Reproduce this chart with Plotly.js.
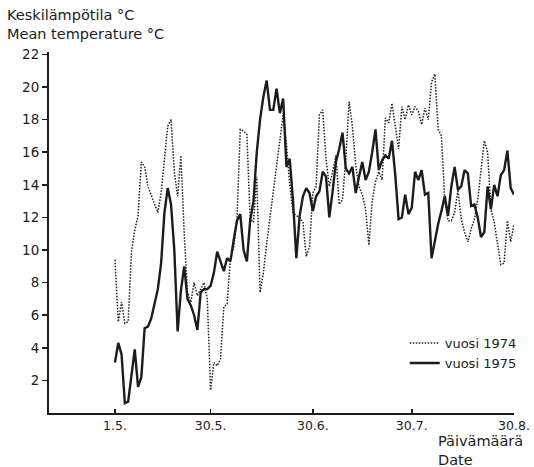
<!DOCTYPE html>
<html>
<head>
<meta charset="utf-8">
<script src="https://cdn.plot.ly/plotly-3.0.1.min.js"></script>
<style>
  html, body { margin: 0; padding: 0; background: #fff; }
  #chart { width: 534px; height: 467px; }
</style>
</head>
<body>
<div id="chart"></div>
<script>
// Daily mean temperature (°C), 1 May – 30 August
const temp1974 = [
  9.4, 5.6, 6.8, 5.5, 5.6, 9.9, 11.2, 12.1, 15.4, 15.1,
  13.9, 13.4, 12.8, 12.3, 13.5, 15.5, 17.6, 18.0, 14.8, 13.3,
  15.8, 11.0, 7.4, 6.8, 8.0, 7.2, 7.6, 8.0, 7.0, 1.4,
  3.1, 2.9, 3.3, 6.5, 6.7, 9.4, 10.2, 11.9, 17.4, 17.3,
  17.1, 11.9, 11.7, 14.5, 7.4, 8.6, 10.4, 12.0, 13.6, 15.4,
  17.0, 18.3, 16.5, 14.0, 12.3, 12.1, 12.0, 11.7, 9.6, 10.2,
  13.5, 13.9, 18.3, 18.6, 15.6, 13.9, 14.8, 15.8, 12.8, 13.1,
  15.6, 19.1, 17.6, 15.2, 13.9, 13.4, 12.5, 10.3, 13.0, 14.2,
  14.8, 14.3, 18.1, 17.8, 19.0, 17.6, 16.2, 18.8, 18.0, 18.9,
  18.3, 18.8, 18.5, 17.7, 18.7, 18.0, 20.3, 20.8, 17.4, 17.0,
  13.1, 11.8, 11.8, 12.3, 13.7, 11.9, 11.1, 10.5, 11.3, 11.9,
  13.1, 14.9, 16.7, 16.0, 12.5, 11.7, 10.4, 9.1, 9.2, 11.8,
  10.5, 11.6
];

const temp1975 = [
  3.1, 4.3, 3.6, 0.6, 0.7, 2.3, 3.9, 1.6, 2.2, 5.2,
  5.3, 5.8, 6.7, 7.6, 9.2, 12.3, 13.8, 12.8, 10.0, 5.0,
  7.5, 9.0, 7.0, 6.6, 6.0, 5.1, 7.4, 7.6, 7.6, 7.8,
  8.6, 9.9, 9.3, 8.7, 9.5, 9.3, 10.6, 11.8, 12.2, 10.0,
  9.3, 11.8, 13.0, 16.0, 18.0, 19.4, 20.4, 18.6, 18.6, 19.9,
  18.4, 19.3, 15.1, 15.6, 13.0, 9.5, 12.1, 13.3, 13.8, 13.5,
  12.4, 13.3, 13.6, 14.8, 14.5, 12.0, 13.6, 15.4, 16.2, 17.2,
  15.0, 14.7, 15.1, 13.5, 14.5, 15.4, 14.3, 14.8, 16.0, 17.4,
  14.9, 15.5, 15.8, 15.6, 16.7, 14.6, 11.9, 12.0, 13.4, 12.2,
  12.6, 14.8, 14.3, 14.9, 13.4, 13.5, 9.5, 10.6, 11.6, 12.4,
  13.3, 12.1, 13.9, 15.1, 13.7, 13.9, 14.9, 14.7, 12.7, 12.8,
  12.0, 10.8, 11.1, 13.9, 12.5, 14.0, 13.3, 14.6, 14.9, 16.1,
  13.8, 13.4
];

// Day number counted from 1 May
const dayIndex = temp1975.map((_, i) => i);

// Date ticks (day number and label)
const dateTickDays = [0, 29, 60, 90, 121];
const dateTickLabels = ['1.5.', '30.5.', '30.6.', '30.7.', '30.8.'];

const tempTicks = [2, 4, 6, 8, 10, 12, 14, 16, 18, 20, 22];

const ink = '#1c1c1c';
const font = 'DejaVu Sans, Liberation Sans, Arial, sans-serif';

const traces = [
  {
    x: dayIndex,
    y: temp1974,
    type: 'scatter',
    mode: 'lines',
    name: 'vuosi 1974',
    line: { color: ink, width: 1.5, dash: '1.5px,1.5px' },
    hoverinfo: 'skip'
  },
  {
    x: dayIndex,
    y: temp1975,
    type: 'scatter',
    mode: 'lines',
    name: 'vuosi 1975',
    line: { color: ink, width: 2.4 },
    hoverinfo: 'skip'
  }
];

const layout = {
  width: 534,
  height: 467,
  margin: { l: 49, r: 17, t: 52, b: 53.5 },
  paper_bgcolor: '#ffffff',
  plot_bgcolor: '#ffffff',
  font: { family: font, color: ink, size: 13 },
  showlegend: true,
  legend: {
    x: 0.765, y: 0.235, xanchor: 'left', yanchor: 'top',
    bgcolor: 'rgba(0,0,0,0)',
    font: { family: font, size: 13, color: ink },
    tracegroupgap: 0
  },
  xaxis: {
    range: [-20, 121],
    tickmode: 'array',
    tickvals: dateTickDays,
    ticktext: dateTickLabels,
    showline: true,
    linecolor: ink,
    linewidth: 2,
    ticks: 'inside',
    ticklen: 4,
    tickwidth: 1.5,
    tickcolor: ink,
    showgrid: false,
    zeroline: false,
    tickfont: { family: font, size: 12.5, color: ink },
    fixedrange: true
  },
  yaxis: {
    range: [0, 22.15],
    tickmode: 'array',
    tickvals: tempTicks,
    showline: true,
    linecolor: ink,
    linewidth: 2,
    ticks: 'outside',
    ticklen: 5,
    tickwidth: 1.5,
    tickcolor: ink,
    showgrid: false,
    zeroline: false,
    tickfont: { family: font, size: 13.5, color: ink },
    fixedrange: true
  },
  annotations: [
    {
      text: 'Keskilämpötila °C<br>Mean temperature °C', xref: 'paper', yref: 'paper',
      x: -0.094, y: 1.075, xanchor: 'left', yanchor: 'middle', align: 'left',
      showarrow: false, font: { family: font, size: 14.5, color: ink }
    },
    {
      text: 'Päivämäärä<br>Date', xref: 'paper', yref: 'paper',
      x: 0.833, y: -0.104, xanchor: 'left', yanchor: 'middle', align: 'left',
      showarrow: false, font: { family: font, size: 14.5, color: ink }
    }
  ]
};

Plotly.newPlot('chart', traces, layout, { displayModeBar: false, staticPlot: true });
</script>
</body>
</html>
